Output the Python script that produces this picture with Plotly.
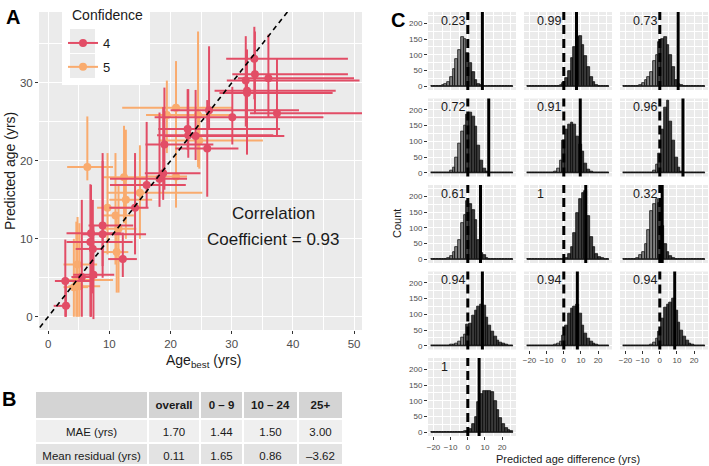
import plotly.graph_objects as go

W, H = 709, 466
FONT = "Liberation Sans, Arial, Helvetica, sans-serif"
RED = "#E24D66"
ORANGE = "#F9AB6E"

# ---------------- Panel A data ----------------
# confidence 4
c4_age = [33.7, 33.8, 32.3, 36.0, 32.5, 32.5, 37.4, 30.1, 26.3, 22.8, 24.1, 22.9, 26.0, 19.0,
          18.8, 18.2, 16.1, 14.2, 8.9, 8.9, 7.0, 6.9, 7.3, 12.2, 2.8, 7.4, 5.5, 2.9]
c4_pred = [33.1, 31.1, 30.3, 30.6, 29.0, 28.7, 26.1, 25.6, 26.5, 24.1, 23.2, 23.3, 21.6, 22.1,
           18.4, 17.7, 16.9, 14.0, 11.7, 10.6, 10.7, 9.6, 8.7, 7.4, 4.6, 5.4, 5.1, 1.4]
c4_age_lo = [29.1, 30.1, 29.2, 31.0, 27.2, 28.0, 33.0, 17.4, 20.0, 18.0, 19.1, 17.8, 20.8, 15.9,
             15.8, 10.1, 10.1, 10.0, 6.6, 5.5, 3.0, 3.0, 4.5, 9.8, 1.1, 4.1, 3.8, 0.9]
c4_age_hi = [49.0, 49.0, 50.9, 50.0, 47.0, 46.5, 52.5, 45.0, 41.0, 37.9, 38.6, 36.8, 31.1, 27.0,
             24.9, 22.7, 22.5, 16.4, 13.9, 16.0, 12.0, 13.8, 9.0, 14.5, 6.9, 10.8, 8.0, 3.6]
c4_pred_lo = [27.9, 26.0, 24.4, 25.5, 20.8, 21.5, 23.1, 22.1, 24.0, 21.4, 20.1, 20.4, 15.4, 16.3,
              15.0, 14.1, 14.0, 8.0, 6.5, 5.0, 0.0, 0.0, 3.0, 5.1, 0.0, -0.3, 0.0, 0.0]
c4_pred_hi = [37.2, 36.6, 36.0, 36.2, 34.3, 33.0, 33.2, 29.5, 34.7, 29.2, 29.1, 29.2, 27.8, 29.4,
              26.9, 26.2, 25.0, 21.0, 21.0, 20.0, 16.9, 17.0, 15.0, 10.8, 9.9, 11.8, 15.0, 4.6]
# confidence 5
c5_age = [6.4, 20.9, 19.4, 24.5, 24.7, 12.4, 15.0, 20.9, 9.7, 12.7, 11.0, 11.5, 11.2, 4.8, 4.6, 5.1, 4.2]
c5_pred = [19.2, 26.8, 25.9, 25.9, 22.6, 17.9, 15.9, 18.0, 14.0, 15.0, 13.0, 11.3, 8.3, 6.7, 4.7, 3.9, 3.8]
c5_age_lo = [3.1, 12.1, 16.0, 22.0, 18.3, 9.0, 9.6, 16.0, 8.0, 10.0, 9.0, 9.0, 9.0, 2.5, 3.1, 3.3, 2.5]
c5_age_hi = [10.6, 30.2, 28.0, 30.0, 35.1, 16.0, 25.2, 22.7, 15.0, 17.0, 14.0, 14.4, 13.1, 8.0, 10.6, 8.5, 6.5]
c5_pred_lo = [17.5, 20.0, 21.0, 19.2, 19.0, 12.0, 10.0, 14.0, 8.0, 10.0, 6.7, 3.1, 3.1, 0.0, 0.0, 0.0, 0.0]
c5_pred_hi = [25.7, 32.8, 30.3, 36.6, 26.0, 24.5, 22.0, 24.0, 21.0, 24.0, 21.0, 17.0, 13.1, 12.8, 12.2, 12.0, 10.0]

corr_text = ["Correlation", "Coefficient = 0.93"]

# ---------------- Panel B data ----------------
tbl_header = ["\u00a0", "overall", "0\u00a0–\u00a09", "10\u00a0–\u00a024", "25+"]
tbl_rows = ["MAE\u00a0(yrs)", "Mean\u00a0residual\u00a0(yrs)"]
tbl_overall = ["1.70", "0.11"]
tbl_0_9 = ["1.44", "1.65"]
tbl_10_24 = ["1.50", "0.86"]
tbl_25 = ["3.00", "–3.62"]

# ---------------- Panel C data ----------------
bin_centers = [-20.8, -19.2, -17.6, -16.0, -14.4, -12.8, -11.2, -9.6, -8.0, -6.4, -4.8, -3.2, -1.6, 0.0,
               1.6, 3.2, 4.8, 6.4, 8.0, 9.6, 11.2, 12.8, 14.4, 16.0, 17.6, 19.2, 20.8, 22.4, 24.0, 25.6]
bin_width = 1.6
hist_counts = [
    [0, 0, 1, 1, 3, 8, 15, 30, 55, 85, 115, 158, 150, 105, 75, 45, 20, 8, 4, 2, 1, 0, 0, 0, 0, 0, 0, 0, 0, 0],
    [0, 0, 0, 0, 0, 0, 0, 0, 0, 0, 0, 1, 3, 10, 25, 50, 90, 125, 155, 160, 130, 95, 60, 30, 12, 5, 2, 1, 0, 0],
    [0, 0, 0, 0, 0, 2, 5, 10, 20, 30, 45, 80, 100, 140, 150, 155, 130, 100, 60, 20, 8, 3, 1, 0, 0, 0, 0, 0, 0, 0],
    [0, 0, 0, 0, 0, 0, 2, 6, 18, 50, 94, 131, 150, 185, 190, 180, 147, 88, 40, 13, 4, 1, 0, 0, 0, 0, 0, 0, 0, 0],
    [0, 0, 0, 0, 0, 0, 0, 0, 0, 2, 5, 15, 40, 104, 137, 153, 160, 153, 115, 90, 67, 29, 10, 4, 1, 0, 0, 0, 0, 0],
    [0, 0, 0, 0, 0, 0, 0, 0, 0, 0, 2, 8, 25, 60, 137, 206, 231, 163, 104, 50, 18, 5, 1, 0, 0, 0, 0, 0, 0, 0],
    [0, 0, 0, 0, 0, 2, 4, 10, 24, 40, 61, 115, 142, 186, 176, 155, 126, 60, 20, 12, 5, 2, 0, 0, 0, 0, 0, 0, 0, 0],
    [0, 0, 0, 0, 0, 0, 0, 0, 0, 0, 0, 0, 0, 1, 5, 18, 40, 83, 147, 190, 210, 217, 137, 72, 40, 18, 8, 3, 1, 0],
    [0, 0, 0, 0, 2, 5, 13, 24, 50, 94, 153, 175, 190, 180, 105, 50, 24, 10, 3, 1, 0, 0, 0, 0, 0, 0, 0, 0, 0, 0],
    [0, 0, 0, 0, 0, 0, 2, 4, 5, 8, 15, 25, 35, 68, 72, 95, 111, 125, 132, 127, 90, 65, 44, 28, 16, 10, 6, 3, 1, 0],
    [0, 0, 0, 0, 0, 0, 0, 1, 2, 2, 4, 8, 12, 33, 65, 101, 117, 125, 132, 101, 65, 39, 23, 12, 6, 3, 1, 0, 0, 0],
    [0, 0, 0, 0, 0, 0, 0, 0, 1, 2, 5, 10, 23, 44, 85, 122, 132, 138, 150, 111, 75, 49, 28, 16, 7, 3, 1, 0, 0, 0],
    [0, 0, 0, 0, 0, 0, 0, 0, 0, 0, 0, 0, 3, 5, 10, 25, 50, 95, 120, 130, 130, 130, 128, 100, 70, 45, 25, 12, 6, 3],
]
observed_diff = [8.5, 7.4, 10.7, 12.2, 9.6, 13.5, 7.4, 12.8, 1.4, 8.5, 7.9, 8.7, 6.6]
prob_labels = ["0.23", "0.99", "0.73", "0.72", "0.91", "0.96", "0.61", "1", "0.32", "0.94", "0.94", "0.94", "1"]


def px_x(p):
    return p / W


def px_y(p):
    return 1 - p / H


fig = go.Figure()

# legend-only glyph traces
for name, col in [("4", RED), ("5", ORANGE)]:
    fig.add_trace(go.Scatter(x=[None], y=[None], mode="lines+markers", name=name, legendgroup=name,
                             line=dict(color=col, width=2), marker=dict(color=col, size=8),
                             xaxis="x", yaxis="y", showlegend=True))


def err_trace(age, pred, alo, ahi, plo, phi, col):
    return go.Scatter(
        x=age, y=pred, mode="markers", showlegend=False,
        marker=dict(color=col, size=8),
        error_x=dict(type="data", symmetric=False,
                     array=[h - a for a, h in zip(age, ahi)],
                     arrayminus=[a - l for a, l in zip(age, alo)],
                     color=col, thickness=2, width=0),
        error_y=dict(type="data", symmetric=False,
                     array=[h - p for p, h in zip(pred, phi)],
                     arrayminus=[p - l for p, l in zip(pred, plo)],
                     color=col, thickness=2, width=0),
        xaxis="x", yaxis="y", cliponaxis=True)


fig.add_trace(err_trace(c5_age, c5_pred, c5_age_lo, c5_age_hi, c5_pred_lo, c5_pred_hi, ORANGE))
fig.add_trace(err_trace(c4_age, c4_pred, c4_age_lo, c4_age_hi, c4_pred_lo, c4_pred_hi, RED))
# identity line
fig.add_trace(go.Scatter(x=[-5, 45], y=[-5, 45], mode="lines", showlegend=False,
                         line=dict(color="black", width=1.6, dash="5px,4px"),
                         xaxis="x", yaxis="y", hoverinfo="skip"))

# table
fig.add_trace(go.Table(
    domain=dict(x=[px_x(35), px_x(343)], y=[px_y(464), px_y(391)]),
    columnwidth=[113, 52, 43, 55, 45],
    header=dict(values=["<b>%s</b>" % h for h in tbl_header],
                fill_color="#D4D4D4", line=dict(color="white", width=2),
                font=dict(family=FONT, size=11.5, color="#1a1a1a"), height=24, align="center"),
    cells=dict(values=[tbl_rows, tbl_overall, tbl_0_9, tbl_10_24, tbl_25],
               fill_color=[["#EFEFEF", "#E3E3E3"]] * 5, line=dict(color="white", width=2),
               font=dict(family=FONT, size=11.5, color="#1a1a1a"), height=24, align="center"),
))

layout = dict(
    width=W, height=H, margin=dict(l=0, r=0, t=0, b=0),
    paper_bgcolor="white", plot_bgcolor="#EBEBEB",
    font=dict(family=FONT, color="#1a1a1a"),
    barmode="overlay", bargap=0,
    legend=dict(x=px_x(63), y=px_y(28), xanchor="left", yanchor="top",
                bgcolor="rgba(0,0,0,0)", itemwidth=30, tracegroupgap=4,
                font=dict(size=13, color="#1a1a1a")),
)


def axis(domain, rng, dtick, mdtick, show_labels, font_size, anchor):
    return dict(domain=domain, range=rng, anchor=anchor,
                tickmode="linear", tick0=0, dtick=dtick,
                showgrid=True, gridcolor="white", gridwidth=1.1,
                zeroline=False, showline=False,
                ticks="outside" if show_labels else "", ticklen=3, tickcolor="#333333", tickwidth=1,
                showticklabels=show_labels,
                tickfont=dict(size=font_size, color="#4d4d4d"),
                minor=dict(tick0=0, dtick=mdtick, showgrid=True, gridcolor="white", gridwidth=0.5, ticks=""),
                fixedrange=True)


layout["xaxis"] = axis([px_x(39), px_x(362)], [-1.5, 51.3], 10, 5, True, 11.5, "y")
layout["yaxis"] = axis([px_y(330), px_y(12)], [-1.7, 39.1], 10, 5, True, 11.5, "x")

shapes = []
annotations = []

# legend decor
shapes.append(dict(type="rect", xref="paper", yref="paper", x0=px_x(62), x1=px_x(150),
                   y0=px_y(85), y1=px_y(0), fillcolor="white", line=dict(width=0), layer="above"))
for top in (29, 54):
    shapes.append(dict(type="rect", xref="paper", yref="paper", x0=px_x(70), x1=px_x(95),
                       y0=px_y(top + 24), y1=px_y(top), fillcolor="#EBEBEB", line=dict(width=0),
                       layer="above"))

# facets
col_left = [428, 524, 620]
fac_w = 88
row_top = [12, 98.5, 185, 271.5, 358]
fac_h = 78
bottom_in_col = {0: 12, 1: 10, 2: 11}
for i, counts in enumerate(hist_counts):
    r, c = divmod(i, 3)
    n = i + 2
    xa, ya = "x%d" % n, "y%d" % n
    layout["xaxis%d" % n] = axis([px_x(col_left[c]), px_x(col_left[c] + fac_w)], [-23.2, 28.1], 10, 5,
                                 bottom_in_col[c] == i, 8, ya)
    layout["yaxis%d" % n] = axis([px_y(row_top[r] + fac_h), px_y(row_top[r])], [-12, 236], 50, 25,
                                 c == 0, 8, xa)
    fig.add_trace(go.Scatter(x=[bin_centers[0] - bin_width / 2, bin_centers[-1] + bin_width / 2], y=[0, 0],
                             mode="lines", line=dict(color="black", width=1.2), showlegend=False,
                             xaxis=xa, yaxis=ya, hoverinfo="skip"))
    fig.add_trace(go.Bar(x=bin_centers, y=counts, width=bin_width, showlegend=False,
                         marker=dict(color=["#808080" if b < 0 else "#3a3a3a" for b in bin_centers],
                                     line=dict(color="black", width=0.7)),
                         xaxis=xa, yaxis=ya))
    shapes.append(dict(type="line", xref=xa, yref=ya + " domain", x0=0, x1=0, y0=0, y1=1,
                       line=dict(color="black", width=3, dash="9px,5px"), layer="above"))
    shapes.append(dict(type="line", xref=xa, yref=ya + " domain", x0=observed_diff[i], x1=observed_diff[i],
                       y0=0, y1=1, line=dict(color="black", width=3), layer="above"))
    annotations.append(dict(text=prob_labels[i], xref=xa, yref=ya + " domain", x=-16.8, y=0.885,
                            xanchor="left", yanchor="middle", showarrow=False,
                            font=dict(size=12.5, color="#1a1a1a")))

# text annotations
def ann(text, x, y, size, bold=False, angle=0, xanchor="center"):
    annotations.append(dict(text="<b>%s</b>" % text if bold else text, xref="paper", yref="paper",
                            x=px_x(x), y=px_y(y), xanchor=xanchor, yanchor="middle",
                            showarrow=False, textangle=angle,
                            font=dict(size=size, color="#000000" if bold else "#1a1a1a")))


ann("A", 13, 17, 20, bold=True)
ann("B", 9, 399, 20, bold=True)
ann("C", 398, 20, 20, bold=True)
ann(corr_text[0], 273, 213, 17)
ann(corr_text[1], 273, 239, 17)
ann("Predicted age (yrs)", 10, 171, 14, angle=-90)
ann("Age<sub>best</sub> (yrs)", 203, 361, 14)
ann("Count", 397, 224, 11, angle=-90)
ann("Predicted age difference (yrs)", 568, 459, 11)
ann("Confidence", 70, 15, 14, xanchor="left")

layout["shapes"] = shapes
layout["annotations"] = annotations
fig.update_layout(**layout)
fig.write_html("out.html")
